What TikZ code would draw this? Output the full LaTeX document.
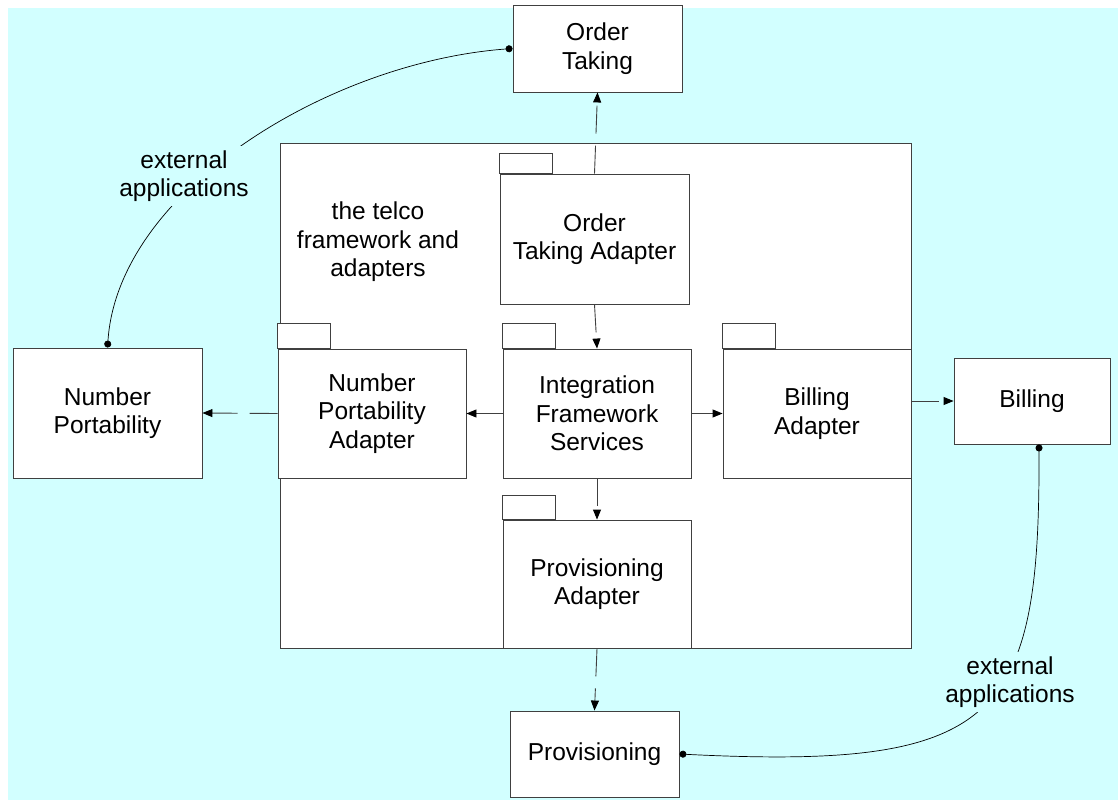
\documentclass[tikz,border=0pt]{standalone}
\usepackage{fontspec}
\setmainfont{Liberation Sans}
\usetikzlibrary{arrows.meta}
\definecolor{bgcyan}{RGB}{210,255,255}
\definecolor{edge}{RGB}{64,64,64}
\begin{document}
\begin{tikzpicture}[x=1pt,y=-1pt,
  every node/.style={font=\fontsize{24.5}{28.5}\selectfont, align=center, inner sep=0pt, text=black},
  box/.style={draw=edge, fill=white, line width=0.9pt},
  tabbox/.style={draw=edge, fill=white, line width=0.9pt},
  dep/.style={draw=edge, line width=0.9pt, dash pattern=on 28pt off 12pt, -{Triangle[length=10pt,width=8pt,fill=black,color=black]}},
  ext/.style={draw=black, line width=0.7pt, {Circle[length=7pt]}-{Circle[length=7pt]}},
  lbl/.style={fill=bgcyan, inner sep=4pt}]
\useasboundingbox (0,0) rectangle (1118,800);
\fill[bgcyan] (8,8) rectangle (1118,800);

% framework container
\node[box, minimum width=631, minimum height=505] (fw) at (595.5,395.5) {};
\node (fwlabel) at (378,242) {the telco\\framework and\\adapters};

% adapters (package shapes)
\node[box, minimum width=189, minimum height=130] (ota) at (594.5,239) {Order\\Taking Adapter};
\draw[tabbox] (ota.north west) rectangle ++(53,-20);
\node[box, minimum width=188, minimum height=129] (ifs) at (597,413.5) {Integration\\Framework\\Services};
\draw[tabbox] (ifs.north west) rectangle ++(53,-25);
\node[box, minimum width=188, minimum height=129] (npa) at (372,413.5) {Number\\Portability\\Adapter};
\draw[tabbox] (npa.north west) rectangle ++(53,-25);
\node[box, minimum width=188, minimum height=129] (ba) at (817,413.5) {Billing\\Adapter};
\draw[tabbox] (ba.north west) rectangle ++(53,-25);
\node[box, minimum width=188, minimum height=128] (pa) at (597,584) {Provisioning\\Adapter};
\draw[tabbox] (pa.north west) rectangle ++(53,-24);

% external applications
\node[box, minimum width=169, minimum height=87] (ot) at (597.5,48.5) {Order\\Taking};
\node[box, minimum width=189, minimum height=130] (np) at (107.5,413) {Number\\Portability};
\node[box, minimum width=156, minimum height=86] (bill) at (1032,401) {Billing};
\node[box, minimum width=169, minimum height=86] (prov) at (594.5,754) {Provisioning};

% dependencies
\draw[dep] (ota.north) -- (ot.south);
\draw[dep] (ota.south) -- (ifs.north);
\draw[dep] (ifs.west) -- (npa.east);
\draw[dep] (npa.west) -- (np.east);
\draw[dep] (ifs.east) -- (ba.west);
\draw[dep] (ba.east |- bill.west) -- (bill.west);
\draw[dep] (ifs.south) -- (pa.north);
\draw[dep] (pa.south) -- (prov.north);

% external application links
\draw[ext] (ot.west) .. controls (330,62) and (118,190) .. (np.north);
\node[lbl] (extl1) at (184,176) {external\\applications};
\draw[ext] ([xshift=7]bill.south) .. controls (1040,720) and (1000,770) .. (prov.east);
\node[lbl] (extl2) at (1010,682) {external\\applications};
\end{tikzpicture}
\end{document}
